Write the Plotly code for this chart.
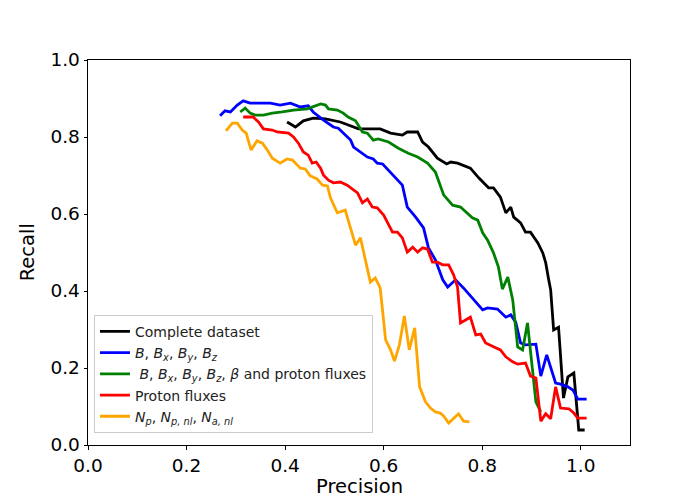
import plotly.graph_objects as go

# Complete dataset
complete_x = [0.404,0.421,0.437,0.457,0.482,0.512,0.549,0.593,0.614,0.638,0.648,0.669,0.679,0.691,0.709,0.728,0.736,0.750,0.776,0.793,0.813,0.823,0.837,0.848,0.858,0.864,0.878,0.888,0.898,0.913,0.923,0.929,0.935,0.939,0.945,0.955,0.965,0.974,0.986,0.990,0.996,1.008]
complete_y = [0.839,0.826,0.842,0.849,0.847,0.839,0.821,0.821,0.810,0.805,0.813,0.813,0.787,0.774,0.745,0.730,0.735,0.732,0.719,0.694,0.668,0.668,0.644,0.603,0.618,0.592,0.577,0.553,0.553,0.525,0.499,0.473,0.429,0.403,0.299,0.306,0.122,0.177,0.187,0.135,0.039,0.039]

# B, Bx, By, Bz
b_x = [0.268,0.278,0.289,0.303,0.315,0.329,0.370,0.390,0.411,0.431,0.447,0.457,0.478,0.498,0.508,0.518,0.533,0.539,0.567,0.579,0.587,0.598,0.614,0.638,0.648,0.665,0.681,0.691,0.705,0.720,0.730,0.746,0.762,0.780,0.801,0.811,0.831,0.848,0.858,0.868,0.878,0.888,0.909,0.919,0.931,0.949,0.959,0.974,0.984,0.994,1.012]
b_y = [0.855,0.868,0.865,0.883,0.894,0.888,0.888,0.883,0.888,0.878,0.881,0.865,0.844,0.826,0.823,0.810,0.792,0.774,0.748,0.743,0.732,0.730,0.709,0.675,0.618,0.592,0.564,0.512,0.481,0.429,0.410,0.429,0.408,0.382,0.351,0.356,0.353,0.332,0.338,0.319,0.265,0.260,0.262,0.179,0.234,0.161,0.158,0.151,0.143,0.119,0.119]

# B, Bx, By, Bz, beta and proton fluxes
bbeta_x = [0.309,0.319,0.329,0.339,0.356,0.374,0.394,0.417,0.445,0.461,0.472,0.482,0.488,0.506,0.518,0.528,0.543,0.557,0.567,0.579,0.589,0.610,0.630,0.650,0.669,0.689,0.705,0.722,0.740,0.756,0.780,0.791,0.801,0.811,0.823,0.833,0.841,0.852,0.862,0.872,0.882,0.892,0.898,0.909,0.919]
bbeta_y = [0.865,0.875,0.862,0.857,0.857,0.862,0.865,0.870,0.873,0.881,0.886,0.883,0.873,0.870,0.862,0.852,0.842,0.813,0.810,0.792,0.795,0.787,0.771,0.758,0.748,0.732,0.709,0.649,0.623,0.618,0.590,0.584,0.551,0.532,0.499,0.462,0.405,0.436,0.377,0.255,0.247,0.317,0.247,0.112,0.086]

# Proton fluxes
proton_x = [0.315,0.335,0.346,0.356,0.374,0.384,0.407,0.417,0.427,0.437,0.447,0.455,0.463,0.472,0.478,0.488,0.498,0.512,0.526,0.547,0.557,0.567,0.577,0.587,0.600,0.614,0.618,0.628,0.638,0.648,0.659,0.669,0.679,0.689,0.699,0.709,0.720,0.732,0.742,0.750,0.756,0.776,0.787,0.797,0.807,0.823,0.837,0.848,0.862,0.872,0.888,0.898,0.909,0.919,0.929,0.939,0.949,0.959,0.976,0.986,0.994,1.012]
proton_y = [0.852,0.852,0.839,0.821,0.818,0.813,0.810,0.800,0.784,0.761,0.753,0.732,0.735,0.719,0.701,0.688,0.681,0.683,0.675,0.655,0.629,0.639,0.618,0.616,0.597,0.564,0.553,0.553,0.538,0.501,0.514,0.501,0.512,0.509,0.475,0.475,0.468,0.468,0.442,0.410,0.317,0.332,0.286,0.288,0.265,0.255,0.247,0.229,0.216,0.210,0.213,0.179,0.174,0.062,0.081,0.068,0.151,0.096,0.094,0.083,0.070,0.070]

# Np, Np,nl, Na,nl
np_x = [0.280,0.293,0.303,0.313,0.321,0.331,0.343,0.354,0.364,0.374,0.390,0.404,0.415,0.431,0.441,0.451,0.465,0.476,0.486,0.492,0.506,0.522,0.543,0.553,0.573,0.583,0.593,0.604,0.614,0.622,0.632,0.642,0.652,0.663,0.673,0.685,0.695,0.705,0.715,0.722,0.732,0.742,0.752,0.762,0.774]
np_y = [0.816,0.836,0.836,0.818,0.810,0.766,0.790,0.784,0.766,0.745,0.732,0.743,0.740,0.719,0.717,0.699,0.691,0.675,0.673,0.642,0.603,0.610,0.519,0.538,0.423,0.434,0.408,0.273,0.247,0.218,0.260,0.335,0.247,0.304,0.151,0.112,0.096,0.086,0.083,0.075,0.057,0.068,0.081,0.062,0.060]

tick_vals = [0, 0.2, 0.4, 0.6, 0.8, 1.0]
tick_text = ["0.0", "0.2", "0.4", "0.6", "0.8", "1.0"]

series = [
    (complete_x, complete_y, "Complete dataset", "black"),
    (b_x, b_y, "<i>B</i>, <i>B</i><sub><i>x</i></sub>, <i>B</i><sub><i>y</i></sub>, <i>B</i><sub><i>z</i></sub>", "#0000ff"),
    (bbeta_x, bbeta_y, " <i>B</i>, <i>B</i><sub><i>x</i></sub>, <i>B</i><sub><i>y</i></sub>, <i>B</i><sub><i>z</i></sub>, <i>β</i> and proton fluxes", "#008000"),
    (proton_x, proton_y, "Proton fluxes", "#ff0000"),
    (np_x, np_y, "<i>N</i><sub><i>p</i></sub>, <i>N</i><sub><i>p, nl</i></sub>, <i>N</i><sub><i>a, nl</i></sub>", "#ffa500"),
]

fig = go.Figure()
for xs, ys, name, color in series:
    fig.add_trace(go.Scatter(x=xs, y=ys, mode="lines", name=name,
                             line=dict(color=color, width=2.8)))

axis_common = dict(showline=True, mirror=True, linecolor="black", linewidth=1,
                   ticks="outside", ticklen=3.5, tickwidth=1, tickcolor="black",
                   showgrid=False, zeroline=False, automargin=False,
                   tickfont=dict(size=18.5, color="black"))

fig.update_layout(
    width=700, height=500,
    margin=dict(l=88, r=70, t=60, b=55, autoexpand=False),
    paper_bgcolor="white", plot_bgcolor="white",
    font=dict(family="DejaVu Sans", color="black"),
    xaxis=dict(range=[0, 1.1], tickvals=tick_vals, ticktext=tick_text, **axis_common),
    yaxis=dict(range=[0, 1.0], tickvals=tick_vals, ticktext=tick_text, **axis_common),
    legend=dict(x=0.011, y=0.338, xanchor="left", yanchor="top",
                bgcolor="rgba(255,255,255,0.8)", bordercolor="#cccccc", borderwidth=1,
                font=dict(size=14, color="#222222"), tracegroupgap=0, itemwidth=30),
    showlegend=True,
    annotations=[
        dict(text="Precision", xref="paper", yref="paper", x=0.5, y=-0.143,
             xanchor="center", yanchor="bottom", showarrow=False,
             font=dict(size=19.5, color="black")),
        dict(text="Recall", xref="paper", yref="paper", x=-0.111, y=0.5,
             xanchor="center", yanchor="middle", showarrow=False, textangle=-90,
             font=dict(size=19.5, color="black")),
    ],
)

fig.write_html("out.html")
